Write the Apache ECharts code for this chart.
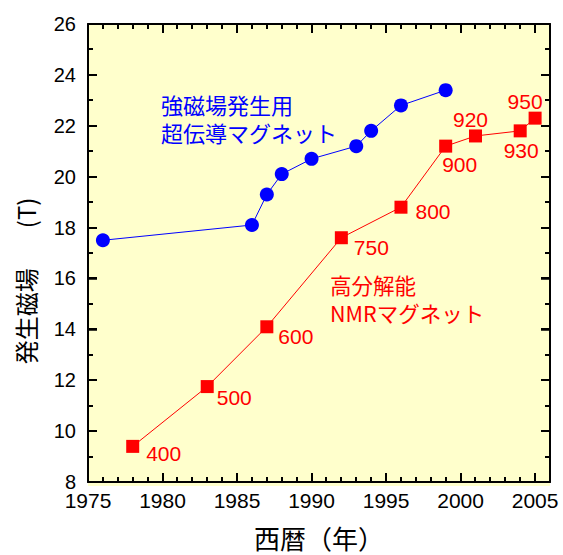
<!DOCTYPE html>
<html>
<head>
<meta charset="utf-8">
<script src="https://cdn.jsdelivr.net/npm/echarts@6/dist/echarts.min.js"></script>
<style>
  html, body { margin: 0; padding: 0; background: #fff; }
  #wrap { position: relative; width: 563px; height: 555px; }
  /* pale yellow plot area sits behind the (transparent) chart, same box as the grid */
  #plotbg { position: absolute; left: 88px; top: 24px; width: 462px; height: 462px; background: #ffffcc; }
  #chart { position: absolute; left: 0; top: 0; width: 563px; height: 555px; }
</style>
</head>
<body>
<div id="wrap">
  <div id="plotbg"></div>
  <div id="chart"></div>
</div>
<script>
// superconducting magnets (blue circles)
var supYears = [1976, 1986, 1987, 1988, 1990, 1993, 1994, 1996, 1999];
var supField = [17.5, 18.1, 19.3, 20.1, 20.7, 21.2, 21.8, 22.8, 23.4];

// high-resolution NMR magnets (red squares), labels in MHz
var nmrYears = [1978, 1983, 1987, 1992, 1996, 1999, 2001, 2004, 2005];
var nmrField = [9.4, 11.75, 14.1, 17.6, 18.8, 21.2, 21.6, 21.8, 22.3];
var nmrLabels = ['400', '500', '600', '750', '800', '900', '920', '930', '950'];

// tick positions (drawn on all four sides of the box)
var xMajorTicks = [1975, 1980, 1985, 1990, 1995, 2000, 2005];
var xMinorTicks = [1976, 1977, 1978, 1979, 1981, 1982, 1983, 1984, 1986, 1987, 1988, 1989,
                   1991, 1992, 1993, 1994, 1996, 1997, 1998, 1999, 2001, 2002, 2003, 2004];
var yMajorTicks = [8, 10, 12, 14, 16, 18, 20, 22, 24, 26];
var yMinorTicks = [9, 11, 13, 15, 17, 19, 21, 23, 25];

// where each NMR label sits relative to its marker
var nmrLabelOffset = [[31, 7], [27, 11], [29, 10], [30, 10], [32, 4], [14, 18], [-5, -16], [1, 20], [-10, -17]];

var fontNum = 'Liberation Sans, Arial, sans-serif';
var fontJp = 'Noto Sans CJK JP, sans-serif';

var X_MIN = 1975, X_MAX = 2006, Y_MIN = 8, Y_MAX = 26;
var MAJOR_LEN = 9, MINOR_LEN = 5;

var supData = supYears.map(function (y, i) { return [y, supField[i]]; });
var nmrData = nmrYears.map(function (y, i) {
  return { value: [y, nmrField[i]], label: { offset: nmrLabelOffset[i] } };
});

// [x, y, isMajor]
var xTickData = xMajorTicks.map(function (v) { return [v, Y_MIN, 1]; })
  .concat(xMinorTicks.map(function (v) { return [v, Y_MIN, 0]; }));
var yTickData = yMajorTicks.map(function (v) { return [X_MIN, v, 1]; })
  .concat(yMinorTicks.map(function (v) { return [X_MIN, v, 0]; }));

function renderXTick(params, api) {
  var cs = params.coordSys;
  var x = Math.round(api.coord([api.value(0), Y_MIN])[0]);
  var len = api.value(2) ? MAJOR_LEN : MINOR_LEN;
  var bottom = cs.y + cs.height, top = cs.y;
  return {
    type: 'group',
    children: [
      { type: 'rect', shape: { x: x - 1, y: bottom - len, width: 2, height: len }, style: { fill: '#000' } },
      { type: 'rect', shape: { x: x - 1, y: top, width: 2, height: len }, style: { fill: '#000' } }
    ]
  };
}

function renderYTick(params, api) {
  var cs = params.coordSys;
  var y = Math.round(api.coord([X_MIN, api.value(1)])[1]);
  var len = api.value(2) ? MAJOR_LEN : MINOR_LEN;
  var left = cs.x, right = cs.x + cs.width;
  return {
    type: 'group',
    children: [
      { type: 'rect', shape: { x: left, y: y - 1, width: len, height: 2 }, style: { fill: '#000' } },
      { type: 'rect', shape: { x: right - len, y: y - 1, width: len, height: 2 }, style: { fill: '#000' } }
    ]
  };
}

function xAxisDef(pos, withLabels) {
  return {
    type: 'value',
    position: pos,
    min: X_MIN,
    max: X_MAX,
    interval: 5,
    axisLine: { show: true, onZero: false, lineStyle: { color: '#000', width: 2 } },
    axisTick: { show: true, inside: true, length: MAJOR_LEN, lineStyle: { color: '#000', width: 1.5 } },
    axisLabel: withLabels
      ? {
          show: true, color: '#000', fontSize: 21, fontFamily: fontNum, margin: 8,
          showMaxLabel: false,
          formatter: function (v) { return v % 5 === 0 ? String(v) : ''; }
        }
      : { show: false },
    splitLine: { show: false }
  };
}

function yAxisDef(pos, withLabels) {
  return {
    type: 'value',
    position: pos,
    min: Y_MIN,
    max: Y_MAX,
    interval: 2,
    axisLine: { show: true, onZero: false, lineStyle: { color: '#000', width: 2 } },
    axisTick: { show: true, inside: true, length: MAJOR_LEN, lineStyle: { color: '#000', width: 1.5 } },
    axisLabel: withLabels
      ? { show: true, color: '#000', fontSize: 20, fontFamily: fontNum, margin: 12 }
      : { show: false },
    splitLine: { show: false }
  };
}

var xBottom = xAxisDef('bottom', true);
xBottom.name = '西暦（年）';
xBottom.nameLocation = 'middle';
xBottom.nameGap = 42;
xBottom.nameTextStyle = { color: '#000', fontSize: 26, fontFamily: fontJp };

var yLeft = yAxisDef('left', true);
yLeft.name = '発生磁場　   (T)';
yLeft.nameLocation = 'middle';
yLeft.nameGap = 51;
yLeft.nameTextStyle = { color: '#000', fontSize: 24, fontFamily: fontJp, padding: [0, 56, 0, 0] };

var option = {
  animation: false,
  grid: { left: 88, right: 13, top: 24, bottom: 69 },
  xAxis: [xBottom, xAxisDef('top', false)],
  yAxis: [yLeft, yAxisDef('right', false)],
  series: [
    {
      type: 'custom',
      xAxisIndex: 0,
      yAxisIndex: 0,
      silent: true,
      z: 3,
      data: xTickData,
      renderItem: renderXTick
    },
    {
      type: 'custom',
      xAxisIndex: 0,
      yAxisIndex: 0,
      silent: true,
      z: 3,
      data: yTickData,
      renderItem: renderYTick
    },
    {
      name: '強磁場発生用超伝導マグネット',
      type: 'line',
      z: 4,
      data: supData,
      symbol: 'circle',
      symbolSize: 14,
      itemStyle: { color: '#0000ff' },
      lineStyle: { color: '#0000ff', width: 1 }
    },
    {
      name: '高分解能NMRマグネット',
      type: 'line',
      z: 4,
      data: nmrData,
      symbol: 'rect',
      symbolSize: 13,
      itemStyle: { color: '#ff0000' },
      lineStyle: { color: '#ff0000', width: 1 },
      label: {
        show: true,
        position: 'inside',
        color: '#ff0000',
        fontSize: 21,
        fontFamily: fontNum,
        formatter: function (p) { return nmrLabels[p.dataIndex]; }
      }
    }
  ],
  graphic: [
    {
      type: 'text', x: 161, y: 90, z: 100,
      style: { text: '強磁場発生用\n超伝導マグネット', fill: '#0000ff', fontSize: 22, fontFamily: fontJp, lineHeight: 28 }
    },
    {
      type: 'text', x: 330, y: 270, z: 100,
      style: { text: '高分解能\nNMRマグネット', fill: '#ff0000', fontSize: 21.5, fontFamily: fontJp, lineHeight: 28 }
    }
  ]
};

var myChart = echarts.init(document.getElementById('chart'), null, { renderer: 'svg' });
myChart.setOption(option);
</script>
</body>
</html>
